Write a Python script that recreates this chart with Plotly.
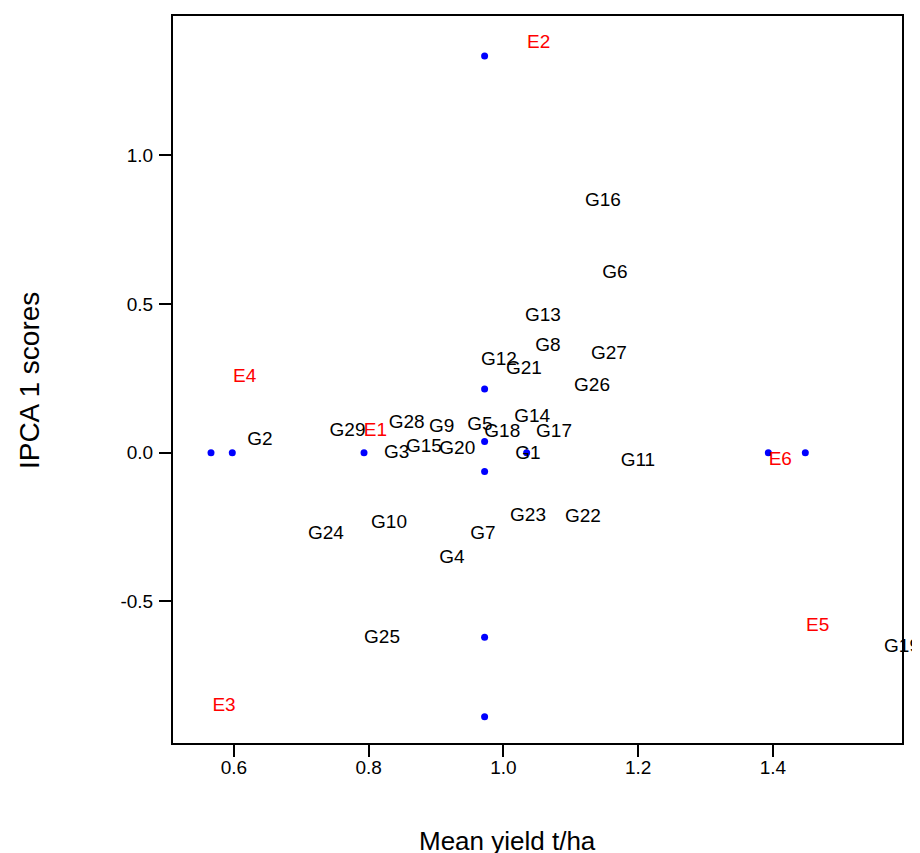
import plotly.graph_objects as go

# Environment labels (red) and genotype labels (black): positions in data units
env_labels = ["E1", "E2", "E3", "E4", "E5", "E6"]
env_x = [0.8100, 1.0522, 0.5852, 0.6159, 1.4663, 1.4108]
env_y = [0.0711, 1.3756, -0.8521, 0.2545, -0.5828, -0.0248]

gen_labels = ["G1", "G2", "G3", "G4", "G5", "G6", "G7", "G8", "G9", "G10",
              "G11", "G12", "G13", "G14", "G15", "G16", "G17", "G18", "G19", "G20",
              "G21", "G22", "G23", "G24", "G25", "G26", "G27", "G28", "G29"]
gen_x = [1.0364, 0.6386, 0.8415, 0.9236, 0.9651, 1.1655, 0.9696, 1.0660, 0.9083, 0.8301,
         1.1996, 0.9933, 1.0586, 1.0427, 0.8820, 1.1477, 1.0750, 0.9982, 1.5915, 0.9314,
         1.0304, 1.1180, 1.0364, 0.7365, 0.8197, 1.1314, 1.1566, 0.8563, 0.7685]
gen_y = [-0.0047, 0.0433, -0.0027, -0.3558, 0.0936, 0.6033, -0.2753, 0.3585, 0.0869, -0.2384,
         -0.0272, 0.3115, 0.4591, 0.1204, 0.0174, 0.8447, 0.0677, 0.0701, -0.6533, 0.0107,
         0.2814, -0.2183, -0.2150, -0.2753, -0.6241, 0.2243, 0.3317, 0.0979, 0.0711]

# Blue points
dot_x = [0.5659, 0.5975, 0.7930, 0.9720, 0.9720, 0.9720, 0.9720, 0.9720, 0.9720, 1.0344, 1.3931, 1.4480]
dot_y = [0.0, 0.0, 0.0, 1.3343, 0.2143, 0.0376, -0.0630, -0.6204, -0.8881, 0.0, 0.0, 0.0]

x_ticks = [0.6, 0.8, 1.0, 1.2, 1.4]
x_ticklabels = ["0.6", "0.8", "1.0", "1.2", "1.4"]
y_ticks = [-0.5, 0.0, 0.5, 1.0]
y_ticklabels = ["-0.5", "0.0", "0.5", "1.0"]

FONT = "Liberation Sans, Arial, sans-serif"

fig = go.Figure()
fig.add_trace(go.Scatter(x=dot_x, y=dot_y, mode="markers",
                         marker=dict(color="#0000ff", size=7), cliponaxis=False,
                         hoverinfo="skip", showlegend=False))
fig.add_trace(go.Scatter(x=gen_x, y=gen_y, mode="text", text=gen_labels,
                         textposition="middle center",
                         textfont=dict(family=FONT, size=19, color="black"),
                         cliponaxis=False, showlegend=False))
fig.add_trace(go.Scatter(x=env_x, y=env_y, mode="text", text=env_labels,
                         textposition="middle center",
                         textfont=dict(family=FONT, size=19, color="#ff0000"),
                         cliponaxis=False, showlegend=False))

fig.update_layout(
    width=912, height=853,
    margin=dict(l=165, r=18, t=6, b=118),
    paper_bgcolor="white", plot_bgcolor="white",
    font=dict(family=FONT, size=18, color="black"),
    xaxis=dict(range=[0.5095, 1.5915], tickvals=x_ticks, ticktext=x_ticklabels,
               showgrid=False, zeroline=False, showline=True, mirror=True,
               linecolor="black", linewidth=2, ticks="outside", ticklen=12,
               tickwidth=2, tickcolor="black", tickfont=dict(size=19),
               ticklabelstandoff=-6),
    yaxis=dict(range=[-0.9762, 1.4685], tickvals=y_ticks, ticktext=y_ticklabels,
               showgrid=False, zeroline=False, showline=True, mirror=True,
               linecolor="black", linewidth=2, ticks="outside", ticklen=12,
               tickwidth=2, tickcolor="black", tickfont=dict(size=19),
               ticklabelstandoff=2),
    annotations=[
        dict(text="Mean yield t/ha", xref="paper", yref="paper", x=0.4595, y=-0.1344,
             xanchor="center", yanchor="middle", showarrow=False,
             font=dict(family=FONT, size=26)),
        dict(text="IPCA 1 scores", xref="paper", yref="paper", x=-0.196, y=0.498,
             xanchor="center", yanchor="middle", showarrow=False, textangle=-90,
             font=dict(family=FONT, size=28)),
    ],
)

fig.write_html("out.html")
